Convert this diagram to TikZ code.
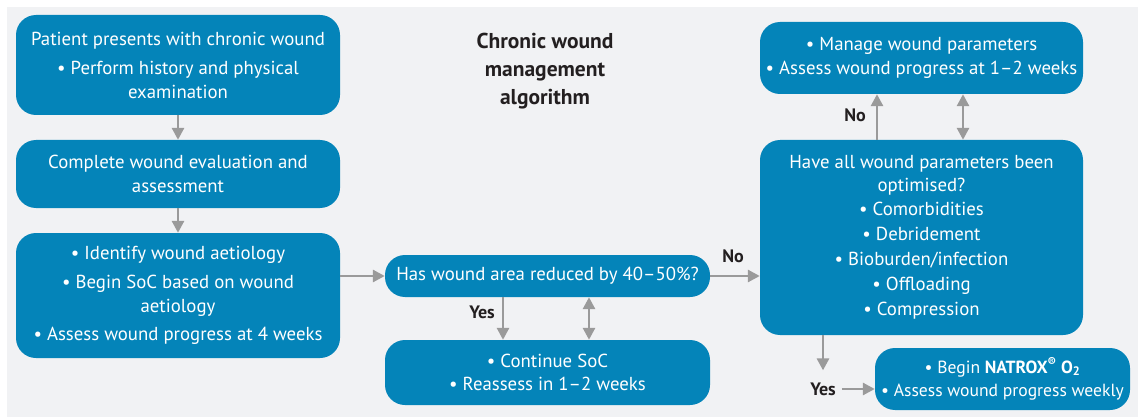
\documentclass[tikz,border=0pt]{standalone}
\usepackage{fontspec}
\setmainfont{PT Sans}
\usetikzlibrary{arrows.meta}
\definecolor{boxblue}{HTML}{0484B9}
\definecolor{bggray}{HTML}{F1F2F4}
\definecolor{arrgray}{HTML}{9A9A9A}
\definecolor{titlecol}{HTML}{231F20}
\tikzset{
  box/.style={fill=boxblue, draw=none, rounded corners=20pt, text=white, align=center,
    inner sep=0pt, font=\fontsize{18.8}{23.5}\selectfont},
  arr/.style={draw=arrgray, line width=2.8pt, -{Triangle[length=12pt,width=12pt]}},
  darr/.style={draw=arrgray, line width=2.8pt, {Triangle[length=12pt,width=12pt]}-{Triangle[length=12pt,width=12pt]}},
  lab/.style={font=\fontsize{18}{20}\selectfont\bfseries, text=titlecol, inner sep=0pt},
}
\begin{document}
\begin{tikzpicture}[x=1pt,y=-1pt]
\useasboundingbox (0,0) rectangle (1138,417);
\fill[bggray] (7,7) rectangle (1138,417);

\node[box, minimum width=324pt, minimum height=100pt] (A) at (178,65)
  {Patient presents with chronic wound\\[6pt] \textbullet\ Perform history and physical\\ examination};
\node[box, minimum width=324pt, minimum height=68pt] (B) at (178,174)
  {Complete wound evaluation and\\ assessment};
\node[box, minimum width=324pt, minimum height=125pt] (C) at (178,295.5)
  {\textbullet\ Identify wound aetiology\\[6pt] \textbullet\ Begin SoC based on wound\\ aetiology\\[5pt] \textbullet\ Assess wound progress at 4 weeks};
\node[box, minimum width=325pt, minimum height=42pt] (D) at (547.5,276)
  {Has wound area reduced by 40--50\%?};
\node[box, minimum width=325pt, minimum height=65pt] (E) at (547.5,372.5)
  {\textbullet\ Continue SoC\\ \textbullet\ Reassess in 1--2 weeks};
\node[box, minimum width=323pt, minimum height=195pt] (F) at (921.5,237.5)
  {Have all wound parameters been\\[-1pt] optimised?\\[1pt] \textbullet\ Comorbidities\\[1pt] \textbullet\ Debridement\\[1.5pt] \textbullet\ Bioburden/infection\\[1.5pt] \textbullet\ Offloading\\[1.5pt] \textbullet\ Compression};
\node[box, minimum width=323pt, minimum height=72pt] (G) at (921.5,58)
  {\textbullet\ Manage wound parameters\\ \textbullet\ Assess wound progress at 1--2 weeks};
\node[box, minimum width=255pt, minimum height=62pt, font=\fontsize{17.6}{23.5}\selectfont] (H) at (1002.5,379)
  {\textbullet\ Begin \textbf{NATROX\textsuperscript{®} O\textsubscript{2}}\\ \textbullet\ Assess wound progress weekly};

\node[align=center, font=\fontsize{21.5}{28}\selectfont\bfseries, text=titlecol] (T) at (545,71)
  {Chronic wound\\ management\\ algorithm};

\node[lab] (yes1) at (482,312) {Yes};
\node[lab] (no1) at (733,256) {No};
\node[lab] (no2) at (855,115) {No};
\node[lab] (yes2) at (823,389) {Yes};

\draw[arr] (A.south) -- (B.north);
\draw[arr] (B.south) -- (C.north);
\draw[arr] (C.east |- D.west) -- (D.west);
\draw[arr] ([xshift=-44.5pt]D.south) -- ([xshift=-44.5pt]E.north);
\draw[darr] ([xshift=41.5pt]D.south) -- ([xshift=41.5pt]E.north);
\draw[arr] (D.east) -- (F.west |- D.east);
\draw[arr] ([xshift=-44.5pt]F.north) -- ([xshift=-44.5pt]G.south);
\draw[darr] ([xshift=41.5pt]F.north) -- ([xshift=41.5pt]G.south);
\draw[arr] ([xshift=-98.5pt]F.south) -- ([yshift=12pt]yes2.north);
\draw[arr] ([xshift=6pt]yes2.east) -- (H.west |- yes2.east);
\end{tikzpicture}
\end{document}
